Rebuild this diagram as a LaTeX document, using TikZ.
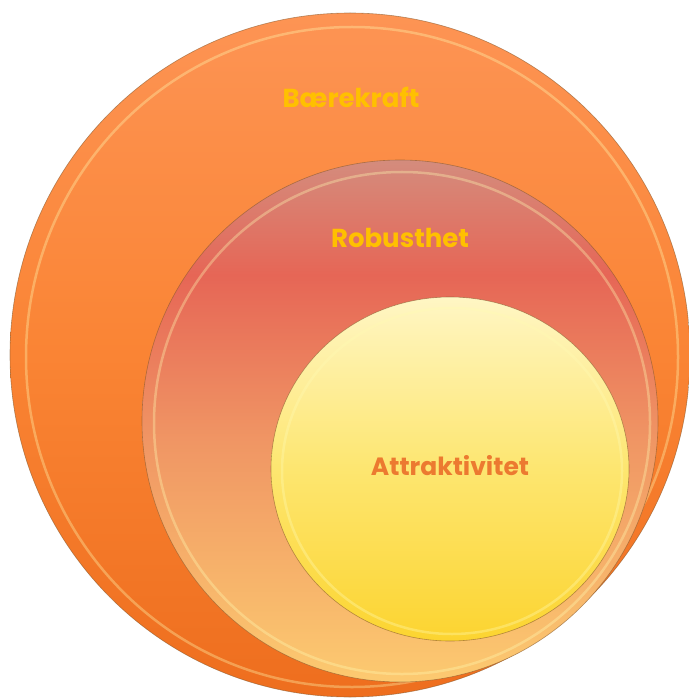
\documentclass[tikz,border=0pt]{standalone}
\usepackage{fontspec}
\setmainfont{Poppins}
\definecolor{baerTop}{RGB}{253,148,84}
\definecolor{baerMid}{RGB}{250,132,52}
\definecolor{baerBot}{RGB}{238,110,30}
\definecolor{robTop}{RGB}{212,140,125}
\definecolor{robRed}{RGB}{230,102,86}
\definecolor{robMid}{RGB}{240,150,100}
\definecolor{robBot}{RGB}{252,202,112}
\definecolor{attTop}{RGB}{255,246,196}
\definecolor{attMid}{RGB}{253,230,112}
\definecolor{attBot}{RGB}{252,212,48}
\definecolor{gold}{RGB}{255,192,0}
\definecolor{attText}{RGB}{236,122,48}
\pgfdeclareverticalshading{baershade}{100bp}{color(0bp)=(baerBot); color(25bp)=(baerBot); color(50bp)=(baerMid); color(75bp)=(baerTop); color(100bp)=(baerTop)}
\pgfdeclareverticalshading{robshade}{100bp}{color(0bp)=(robBot); color(25bp)=(robBot); color(48bp)=(robMid); color(64bp)=(robRed); color(75bp)=(robTop); color(100bp)=(robTop)}
\pgfdeclareverticalshading{attshade}{100bp}{color(0bp)=(attBot); color(25bp)=(attBot); color(50bp)=(attMid); color(75bp)=(attTop); color(100bp)=(attTop)}
\begin{document}
\begin{tikzpicture}[x=1pt,y=-1pt,
  rim/.style={draw=brown!70!black,draw opacity=0.6,line width=0.6pt},
  gloss/.style={draw=yellow!30!white,opacity=0.35,line width=2.5pt},
  lbl/.style={font=\bfseries\fontsize{26}{30}\selectfont}]
\useasboundingbox (0,0) rectangle (688,700);

% Baerekraft
\shade[shading=baershade] (350,355) ellipse [x radius=340, y radius=342];
\draw[rim] (350,355) ellipse [x radius=340, y radius=342];
\draw[gloss] (352,357) ellipse [x radius=326, y radius=330];

% Robusthet
\shade[shading=robshade] (400,421) ellipse [x radius=258, y radius=261];
\draw[rim] (400,421) ellipse [x radius=258, y radius=261];
\draw[gloss] (402,423) ellipse [x radius=248, y radius=251];

% Attraktivitet
\shade[shading=attshade] (450,469) ellipse [x radius=179, y radius=172];
\draw[rim] (450,469) ellipse [x radius=179, y radius=172];
\draw[gloss] (452,471) ellipse [x radius=170, y radius=163];

\node[lbl,text=gold] (baer) at (351,97) {Bærekraft};
\node[lbl,text=gold] (robust) at (400,238) {Robusthet};
\node[lbl,text=attText,font=\bfseries\fontsize{25}{30}\selectfont] (attr) at (450,466) {Attraktivitet};

\end{tikzpicture}
\end{document}
